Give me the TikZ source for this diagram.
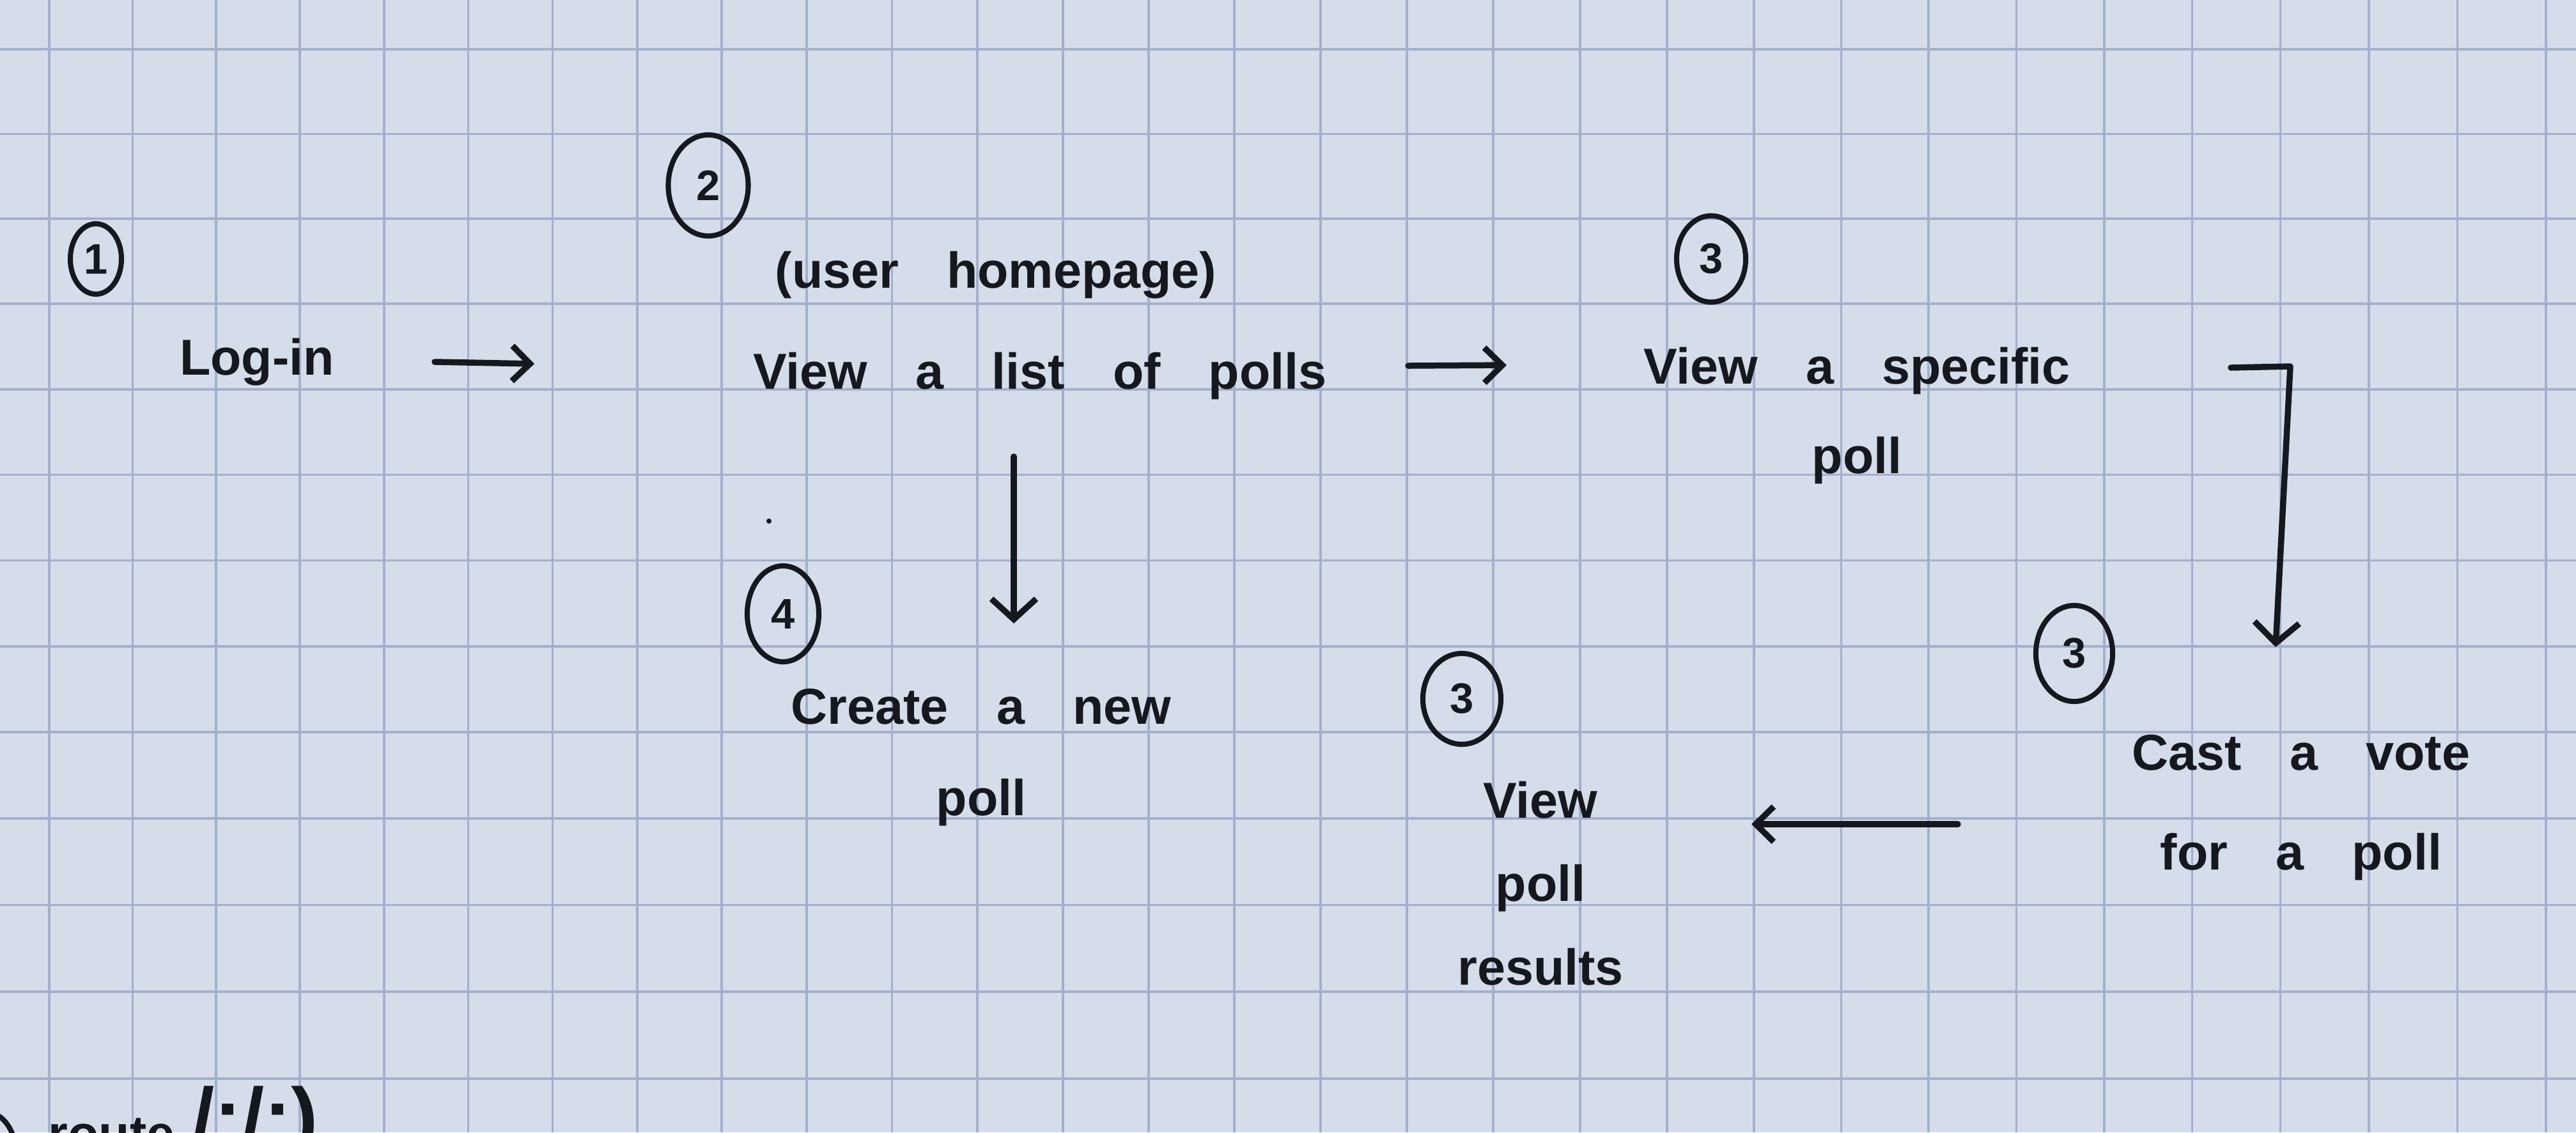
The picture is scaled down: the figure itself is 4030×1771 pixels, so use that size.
\documentclass[tikz,border=0pt]{standalone}
\usepackage{fontspec}
\setmainfont{Liberation Sans}
\usetikzlibrary{arrows.meta,shapes.geometric}
\definecolor{paper}{RGB}{214,221,234}
\definecolor{gridc}{RGB}{163,176,204}
\definecolor{inkc}{RGB}{22,24,32}
\newcommand\hwf[1]{\fontsize{22.5pt}{#1}\selectfont\bfseries\spaceskip=0.95em plus 0.1em\relax}
\tikzset{
  gridline/.style={draw=gridc, line width=1.1pt},
  ink/.style={draw=inkc, line width=2.7pt, line cap=round, line join=round},
  arr/.style={ink, -{Straight Barb[length=0.28cm,width=0.55cm]}},
  bigarr/.style={ink, -{Straight Barb[length=0.32cm,width=0.7cm]}},
  stepnum/.style={ellipse, draw=inkc, line width=2.3pt, inner sep=0pt, text=inkc,
                  font=\fontsize{19pt}{19pt}\selectfont\bfseries},
  hw/.style={inner sep=0pt, text=inkc, align=center, anchor=base, font=\hwf{40pt}},
  dotmark/.style={fill=inkc, draw=none}
}
\begin{document}
\begin{tikzpicture}[x=0.01cm, y=-0.01cm]
\useasboundingbox (0,0) rectangle (4030,1771);
\clip (0,0) rectangle (4030,1771);
\fill[paper] (0,0) rectangle (4030,1771);
% graph paper
\foreach \k in {0,...,29}{
  \pgfmathsetmacro\gx{77+130.5*\k+0.15*\k*(\k-1)}
  \draw[gridline] (\gx,0) -- (\gx,1771);
}
\foreach \j in {0,...,12}{
  \pgfmathsetmacro\gy{77+132.5*\j+0.15*\j*(\j-1)}
  \draw[gridline] (0,\gy) -- (4030,\gy);
}
% step numbers
\node[stepnum, minimum width=0.80cm, minimum height=1.10cm] (n1) at (150,405) {1};
\node[stepnum, minimum width=1.25cm, minimum height=1.58cm] (n2) at (1108,290) {2};
\node[stepnum, minimum width=1.08cm, minimum height=1.35cm] (n3a) at (2677,405) {3};
\node[stepnum, minimum width=1.12cm, minimum height=1.50cm] (n4) at (1225,960) {4};
\node[stepnum, minimum width=1.22cm, minimum height=1.42cm] (n3b) at (2287,1093) {3};
\node[stepnum, minimum width=1.20cm, minimum height=1.50cm] (n3c) at (3245,1022) {3};
% texts (anchor base = baseline of the last line)
\node[hw] (login) at (402,586) {Log-in};
\node[hw] (home) at (1558,450) {(user homepage)};
\node[hw] (list) at (1627,608) {View a list of polls};
\node[hw, font=\hwf{39.8pt}] (spec) at (2905,740) {View a specific\\poll};
\node[hw, font=\hwf{40.4pt}] (create) at (1535,1275) {Create a new\\poll};
\node[hw, font=\hwf{37pt}] (results) at (2410,1540) {View\\poll\\results};
\node[hw, font=\hwf{44.1pt}] (cast) at (3600,1360) {Cast a vote\\for a poll};
% cut-off note at the bottom
\draw[ink, line width=2.3pt] (-20,1805) ellipse (45 and 65);
\node[hw, anchor=base west] (route) at (75,1800) {route};
\node[hw, anchor=base west, font=\fontsize{36pt}{36pt}\selectfont\bfseries] (routepath) at (300,1790) {/:/:)};
% stray pen dots
\fill[dotmark] (1203,815) circle (4);
\fill[dotmark] (2465,1237) circle (3);
% connector end points
\coordinate (a1s) at (680,566);  \coordinate (a1e) at (836,569);
\coordinate (a2s) at (2203,572); \coordinate (a2e) at (2357,571);
\coordinate (a3s) at (1586,714); \coordinate (a3e) at (1586,975);
\coordinate (a4s) at (3490,575); \coordinate (a4m) at (3583,573); \coordinate (a4e) at (3560,1012);
\coordinate (a5s) at (3063,1289); \coordinate (a5e) at (2740,1289);
% connectors
\draw[arr] (a1s) -- (a1e);
\draw[arr] (a2s) -- (a2e);
\draw[bigarr] (a3s) -- (a3e);
\draw[bigarr] (a4s) -- (a4m) -- (a4e);
\draw[arr] (a5s) -- (a5e);
\end{tikzpicture}
\end{document}
